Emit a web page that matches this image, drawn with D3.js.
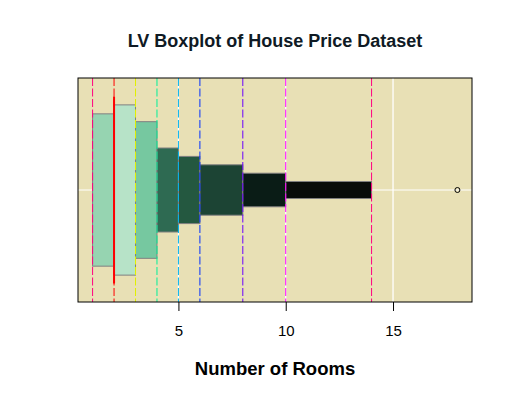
<!DOCTYPE html>
<html>
<head>
<meta charset="utf-8">
<script src="https://cdn.jsdelivr.net/npm/d3@7"></script>
<style>
  body { margin: 0; background: #fff; }
  text { font-family: Arial, "Liberation Sans", sans-serif; }
</style>
</head>
<body>
<svg id="chart" width="513" height="400"></svg>
<script>
// letter-value boxes: lower/upper edge, half height (in y units), fill
var boxLo    = [1, 2, 3, 4, 5, 6, 8, 10];
var boxHi    = [2, 3, 4, 5, 6, 8, 10, 14];
var boxHalf  = [0.68, 0.76, 0.61, 0.375, 0.30, 0.225, 0.15, 0.076];
var boxFill  = ["#96d4b1", "#b7e3c8", "#76c8a0", "#2e6a52", "#245840", "#1c4434", "#0a1c16", "#080c0a"];
var median   = 2;
var outliers = [18];
var whisker  = [0.32, 18.68];
// reference lines
var vlines   = [1, 2, 3, 4, 5, 6, 8, 10, 14];
var vcolors  = ["#ff0080", "#ff0000", "#e0f000", "#00f09a", "#00b4f0", "#0030ff", "#6a00ff", "#ff00ff", "#ff0080"];
var gridX    = [5, 10, 15];
var xTicks   = [5, 10, 15];

var svg = d3.select("#chart");
var pLeft = 78, pRight = 472, pTop = 78, pBottom = 302;

var x = d3.scaleLinear().domain([0.32, 18.68]).range([pLeft, pRight]);
var y = d3.scaleLinear().domain([-1, 1]).range([pBottom, pTop]);

// panel
svg.append("rect")
  .attr("x", pLeft).attr("y", pTop)
  .attr("width", pRight - pLeft).attr("height", pBottom - pTop)
  .attr("fill", "#e8e0b5");

// white centre line & grid lines
svg.append("line")
  .attr("x1", x(whisker[0])).attr("x2", x(whisker[1]))
  .attr("y1", y(0)).attr("y2", y(0))
  .attr("stroke", "#fff").attr("stroke-width", 1);
svg.selectAll(".grid").data(gridX).enter().append("line")
  .attr("x1", d => x(d)).attr("x2", d => x(d))
  .attr("y1", pTop).attr("y2", pBottom)
  .attr("stroke", "#fff").attr("stroke-width", 1.3);

// boxes
var boxes = boxLo.map(function (lo, i) {
  return { lo: lo, hi: boxHi[i], h: boxHalf[i], fill: boxFill[i] };
});
svg.selectAll(".box").data(boxes).enter().append("rect")
  .attr("class", "box")
  .attr("x", d => x(d.lo))
  .attr("width", d => x(d.hi) - x(d.lo))
  .attr("y", d => y(d.h))
  .attr("height", d => y(-d.h) - y(d.h))
  .attr("fill", d => d.fill)
  .attr("stroke", "#808080")
  .attr("stroke-width", 1);

// dashed reference lines
svg.selectAll(".vl").data(vlines).enter().append("line")
  .attr("x1", d => x(d)).attr("x2", d => x(d))
  .attr("y1", pTop).attr("y2", pBottom)
  .attr("stroke", (d, i) => vcolors[i])
  .attr("stroke-width", 1)
  .attr("stroke-dasharray", "8,2.5");

// median
svg.append("line")
  .attr("x1", x(median)).attr("x2", x(median))
  .attr("y1", y(0.835)).attr("y2", y(-0.835))
  .attr("stroke", "#ff0000").attr("stroke-width", 2);

// outliers
svg.selectAll(".out").data(outliers).enter().append("circle")
  .attr("cx", d => x(d)).attr("cy", y(0))
  .attr("r", 2.5)
  .attr("fill", "none").attr("stroke", "#000").attr("stroke-width", 1);

// border
svg.append("rect")
  .attr("x", pLeft).attr("y", pTop)
  .attr("width", pRight - pLeft).attr("height", pBottom - pTop)
  .attr("fill", "none").attr("stroke", "#000").attr("stroke-width", 1);

// x axis
var axis = d3.axisBottom(x).tickValues(xTicks).tickSize(9).tickPadding(14).tickFormat(d3.format("d"));
var ax = svg.append("g").attr("transform", "translate(0," + pBottom + ")").call(axis);
ax.select(".domain").remove();
ax.attr("font-size", null).attr("font-family", null);
ax.selectAll("text").attr("fill", "#000").style("font-size", "15px");
ax.selectAll("line").attr("stroke", "#000");

// title & label
svg.append("text")
  .attr("x", 275).attr("y", 47)
  .attr("text-anchor", "middle")
  .attr("font-size", "18px").attr("font-weight", "bold")
  .attr("fill", "#0f1a24")
  .text("LV Boxplot of House Price Dataset");
svg.append("text")
  .attr("x", 275).attr("y", 375)
  .attr("text-anchor", "middle")
  .attr("font-size", "18.5px").attr("font-weight", "bold")
  .attr("fill", "#000")
  .text("Number of Rooms");
</script>
</body>
</html>
